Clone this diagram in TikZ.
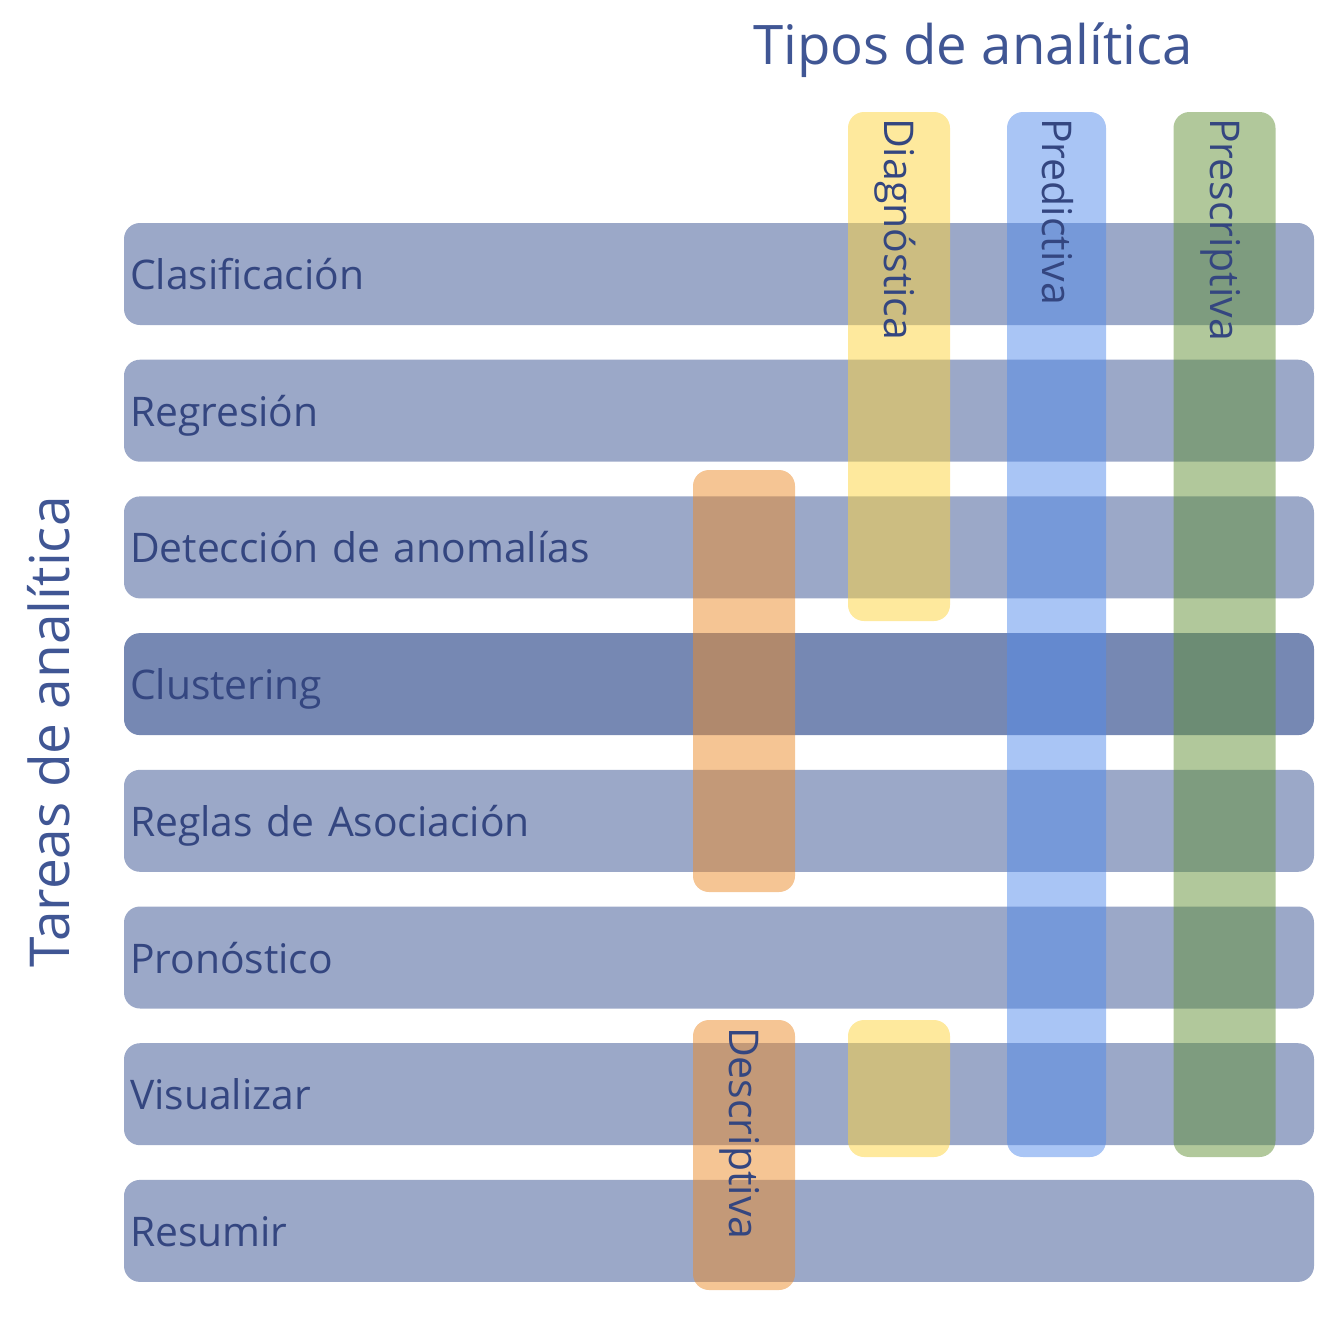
\documentclass[tikz,border=0pt]{standalone}
\usepackage{fontspec}
\setmainfont{Open Sans}
\usetikzlibrary{positioning, calc}

\definecolor{rowfill}{RGB}{155,168,200}
\definecolor{clusterfill}{RGB}{118,136,179}
\definecolor{labelcol}{RGB}{52,70,128}
\definecolor{titlecol}{RGB}{64,86,148}
\definecolor{diagcol}{RGB}{253,211,59}
\definecolor{predcol}{RGB}{83,139,235}
\definecolor{prescol}{RGB}{99,145,55}
\definecolor{descol}{RGB}{235,139,41}

\tikzstyle{tarea} = [rectangle, rounded corners=16pt, minimum height=102pt, text width=1178pt, inner xsep=6pt, inner ysep=0pt, align=left, fill=rowfill, text=labelcol, font=\fontsize{40.8}{41}\selectfont, text height=31pt, text depth=0pt]
\tikzstyle{tipo} = [rectangle, rounded corners=16pt, minimum width=102pt, inner sep=0pt, fill opacity=0.5]
\tikzstyle{tipolabel} = [rotate=-90, anchor=west, inner sep=0pt, text=labelcol, font=\fontsize{41}{41}\selectfont, text height=29pt, text depth=0pt]
\tikzstyle{titulo} = [anchor=base west, inner sep=0pt, text=titlecol, font=\fontsize{54.5}{55}\selectfont]

\begin{document}
\begin{tikzpicture}[x=1pt, y=-1pt]
\useasboundingbox (0,0) rectangle (1336,1318);

% Rows
\node (clasif) [tarea] at (719,274) {Clasificación};
\node (regres) [tarea, below=34.3pt of clasif] {Regresión};
\node (anomal) [tarea, below=34.3pt of regres] {Detección de anomalías};
\node (cluster) [tarea, fill=clusterfill, below=34.3pt of anomal] {Clustering};
\node (reglas) [tarea, below=34.3pt of cluster] {Reglas de Asociación};
\node (pronos) [tarea, below=34.3pt of reglas] {Pronóstico};
\node (visual) [tarea, below=34.3pt of pronos] {Visualizar};
\node (resumir) [tarea, below=34.3pt of visual] {Resumir};

% Bars
\node (descA) [tipo, fill=descol, minimum height=422pt] at (744,681) {};
\node (descB) [tipo, fill=descol, minimum height=270pt] at (744,1155) {};
\node (diagA) [tipo, fill=diagcol, minimum height=509pt] at (899,366.5) {};
\node (diagB) [tipo, fill=diagcol, minimum height=137pt] at (899,1088.5) {};
\node (pred) [tipo, fill=predcol, minimum width=99pt, minimum height=1045pt] at (1056.5,634.5) {};
\node (presc) [tipo, fill=prescol, minimum height=1045pt] at (1224.5,634.5) {};

% Labels
\node (descLabel) [tipolabel] at ($(descB.north)+(0,7)$) {Descriptiva};
\node (diagLabel) [tipolabel] at ($(diagA.north)+(0,6)$) {Diagnóstica};
\node (predLabel) [tipolabel] at ($(pred.north)+(0,6)$) {Predictiva};
\node (prescLabel) [tipolabel] at ($(presc.north)+(0,6)$) {Prescriptiva};

\node (tipos) [titulo] at (753,64) {Tipos de analítica};
\node (tareas) [titulo, font=\fontsize{55}{55}\selectfont, rotate=90] at (69,968) {Tareas de analítica};

\end{tikzpicture}
\end{document}
